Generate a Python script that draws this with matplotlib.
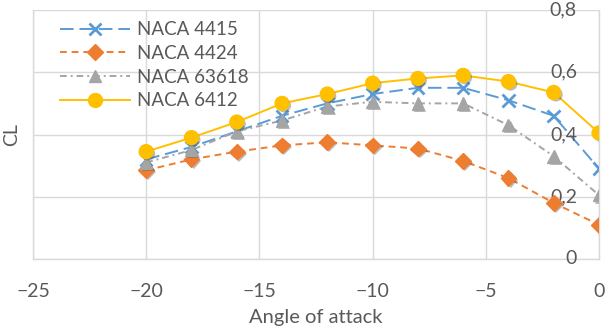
import matplotlib
matplotlib.use("Agg")
import matplotlib.pyplot as plt
import matplotlib.patheffects as pe
from matplotlib.lines import Line2D

angle = [-20, -18, -16, -14, -12, -10, -8, -6, -4, -2, 0]

naca_4415 = [0.32, 0.36, 0.41, 0.46, 0.50, 0.53, 0.55, 0.55, 0.51, 0.46, 0.29]
naca_4424 = [0.285, 0.32, 0.345, 0.365, 0.375, 0.365, 0.355, 0.315, 0.26, 0.18, 0.11]
naca_63618 = [0.31, 0.35, 0.41, 0.445, 0.49, 0.505, 0.50, 0.50, 0.43, 0.33, 0.205]
naca_6412 = [0.345, 0.39, 0.44, 0.50, 0.53, 0.565, 0.58, 0.59, 0.57, 0.535, 0.405]

names = ['NACA 4415', 'NACA 4424', 'NACA 63618', 'NACA 6412']
series = [naca_4415, naca_4424, naca_63618, naca_6412]

xticks = [-25, -20, -15, -10, -5, 0]
yticks = [0, 0.2, 0.4, 0.6, 0.8]
ytick_labels = ['0', '0,2', '0,4', '0,6', '0,8']

colors = ['#5B9BD5', '#ED7D31', '#A5A5A5', '#FFC000']
dashes = [(7, 3), (3.5, 2.5), (3.5, 2, 1, 2), None]
markers = ['x', 'D', '^', 'o']
msizes = [9, 8, 9, 10]

plt.rcParams['font.family'] = ['Lato', 'DejaVu Sans']
txt = '#595959'
grid = '#D9D9D9'
fs = 14

fig = plt.figure(figsize=(6.09, 3.35), dpi=100)
ax = fig.add_axes([33 / 609, 1 - 259 / 335, 566 / 609, 249 / 335])

shadow = [pe.SimplePatchShadow(offset=(1.5, -1.5), shadow_rgbFace='#404040', alpha=0.35), pe.Normal()]

handles = []
for name, vals, c, d, m, ms in zip(names, series, colors, dashes, markers, msizes):
    ln, = ax.plot(angle, vals, color=c, lw=1.4, zorder=3)
    if d is not None:
        ln.set_dashes(d)
    mk, = ax.plot(angle, vals, ls='none', marker=m, ms=ms, color=c,
                  mec=c, mew=2 if m == 'x' else 1, zorder=4)
    mk.set_path_effects(shadow)
    h = Line2D([], [], color=c, lw=1.4, marker=m, ms=ms, mec=c,
               mew=2 if m == 'x' else 1)
    if d is not None:
        h.set_dashes(d)
    handles.append(h)

ax.set_xlim(-25, 0)
ax.set_ylim(0, 0.8)
ax.set_xticks(xticks)
ax.set_yticks(yticks)

ax.grid(True, color=grid, lw=1)
ax.set_axisbelow(True)
for s in ax.spines.values():
    s.set_color(grid)
    s.set_linewidth(1)
ax.spines['top'].set_visible(False)

ax.tick_params(axis='x', length=0, pad=17, labelsize=fs, labelcolor=txt)
ax.tick_params(axis='y', length=0, labelleft=False, labelright=False)

# value axis crosses at x = 0, labels sit just left of it
for v, lab in zip(yticks, ytick_labels):
    ax.annotate(lab, xy=(0, v), xytext=(-22, 0), textcoords='offset pixels',
                ha='right', va='center', fontsize=fs, color=txt,
                annotation_clip=False)

ax.set_xlabel('Angle of attack', fontsize=14.5, color=txt)
ax.xaxis.set_label_coords(0.5, -0.2)
ax.set_ylabel('CL', fontsize=fs, color=txt)
ax.yaxis.set_label_coords(-0.037, 0.5)
ax.yaxis.label.set_va('center')

leg = ax.legend(handles, names, loc='upper left', bbox_to_anchor=(0.035, 0.985),
                frameon=False, fontsize=13.5, handlelength=3.7, handletextpad=0.4,
                labelspacing=0.36, borderaxespad=0, numpoints=1)
for t in leg.get_texts():
    t.set_color(txt)

fig.savefig('out.png', dpi=100)
